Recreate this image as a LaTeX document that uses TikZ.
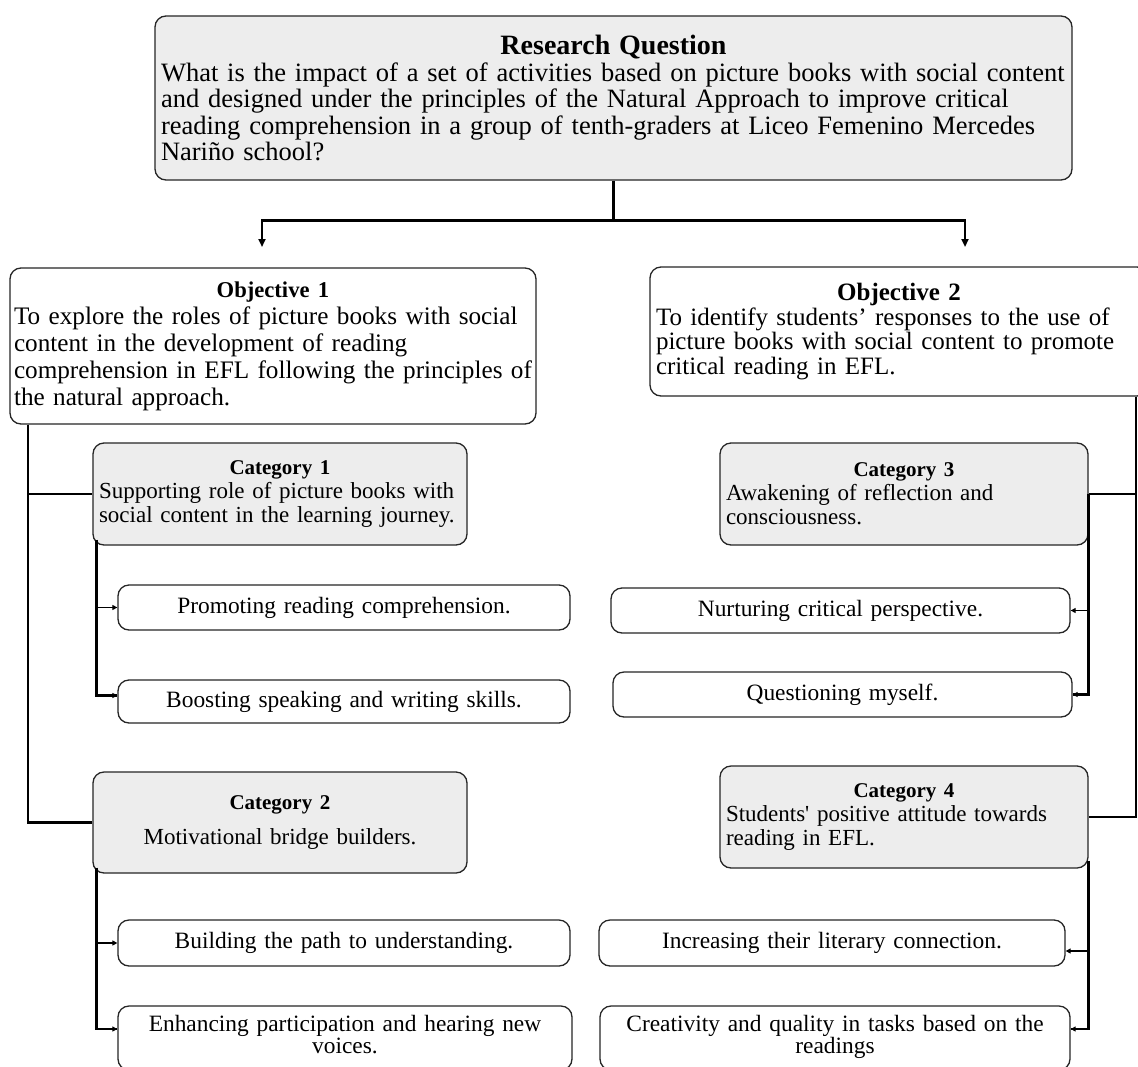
\documentclass[tikz,border=0pt]{standalone}
\usepackage{fontspec}
\setmainfont{Liberation Serif}
\usetikzlibrary{arrows.meta}
\begin{document}
\begin{tikzpicture}[x=1pt,y=-1pt,
  box/.style={draw=black!85, line width=1.3pt, rounded corners=11pt, inner xsep=6pt, inner ysep=0pt, align=left},
  gbox/.style={box, fill=black!7},
  subbox/.style={box, align=center, font=\fontsize{23.4}{22}\selectfont},
  conn/.style={line width=2.4pt},
  branch/.style={line width=1.7pt},
  arr/.style={-{Triangle[length=8pt,width=7pt]}},
  sarr/.style={-{Triangle[length=5pt,width=5pt]}},
  catfont/.style={font=\fontsize{23}{24}\selectfont}]
\clip (0,0) rectangle (1138,1066);
\fill[white] (0,0) rectangle (1138,1066);

% Research question
\node[gbox, minimum width=917pt, minimum height=164pt, text width=905pt,
      font=\fontsize{26.5}{26.5}\selectfont] (rq) at (613.5,98)
 {\hfill{\fontsize{28}{28}\selectfont\bfseries Research Question}\hfill\null\\
  What is the impact of a set of activities based on picture books with social content\\
  and designed under the principles of the Natural Approach to improve critical\\
  reading comprehension in a group of tenth-graders at Liceo Femenino Mercedes\\
  Nariño school?};

% Objectives
\node[box, inner xsep=4pt, font=\fontsize{25.2}{27}\selectfont, minimum width=526pt, minimum height=156pt, text width=518pt] (obj1) at (273,346)
 {\hfill{\fontsize{22.6}{28}\selectfont\bfseries Objective 1}\hfill\null\\
  To explore the roles of picture books with social\\
  content in the development of reading\\
  comprehension in EFL following the principles of\\
  the natural approach.};
\node[box, font=\fontsize{25}{24.5}\selectfont, minimum width=498pt, minimum height=129pt, text width=486pt] (obj2) at (899,331.5)
 {\hfill\textbf{Objective 2}\hfill\null\\
  To identify students’ responses to the use of\\
  picture books with social content to promote\\
  critical reading in EFL.};

% Categories
\node[gbox, catfont, minimum width=374pt, minimum height=102pt, text width=362pt] (cat1) at (280,494)
 {\hfill{\fontsize{21}{24}\selectfont\bfseries Category 1}\hfill\null\\
  Supporting role of picture books with\\
  social content in the learning journey.};
\node[gbox, catfont, align=center, minimum width=374pt, minimum height=101pt, text width=362pt] (cat2) at (280,822.5)
 {{\fontsize{21}{24}\selectfont\bfseries Category 2}\\[11pt]
  Motivational bridge builders.};
\node[gbox, catfont, minimum width=368pt, minimum height=102pt, text width=356pt] (cat3) at (904,494)
 {\hfill{\fontsize{21}{24}\selectfont\bfseries Category 3}\hfill\null\\
  Awakening of reflection and\\
  consciousness.};
\node[gbox, catfont, minimum width=368pt, minimum height=102pt, text width=356pt] (cat4) at (904,817)
 {\hfill{\fontsize{21}{24}\selectfont\bfseries Category 4}\hfill\null\\
  Students\textquotesingle\ positive attitude towards\\
  reading in EFL.};

% Sub-themes left
\node[subbox, minimum width=452pt, minimum height=45pt, text width=440pt] (p1) at (344,607.5) {Promoting reading comprehension.};
\node[subbox, minimum width=452pt, minimum height=43pt, text width=440pt] (p2) at (344,701.5) {Boosting speaking and writing skills.};
\node[subbox, minimum width=452pt, minimum height=46pt, text width=440pt] (p3) at (344,943) {Building the path to understanding.};
\node[subbox, minimum width=454pt, minimum height=64pt, text width=442pt] (p4) at (345,1038) {Enhancing participation and hearing new\\voices.\\[-14pt]\mbox{}};

% Sub-themes right
\node[subbox, minimum width=459pt, minimum height=45pt, text width=447pt] (q1) at (840.5,610.5) {Nurturing critical perspective.};
\node[subbox, minimum width=459pt, minimum height=45pt, text width=447pt] (q2) at (842.5,694.5) {Questioning myself.};
\node[subbox, minimum width=466pt, minimum height=46pt, text width=454pt] (q3) at (832,943) {Increasing their literary connection.};
\node[subbox, minimum width=470pt, minimum height=64pt, text width=458pt] (q4) at (835,1038) {Creativity and quality in tasks based on the\\readings\\[-14pt]\mbox{}};

% Connectors: research question to objectives
\coordinate (a1) at (262,247);
\coordinate (a2) at (965,247);
\draw[conn] (rq.south) -- ++(0,40) coordinate (j);
\draw[conn, arr] (j) -| (a1);
\draw[conn, arr] (j) -| (a2);

% Left trunk
\coordinate (ltx) at (28,0);
\draw[conn] (obj1.south -| ltx) |- (cat2.west);
\draw[conn] (obj1.south -| ltx) |- (cat1.west);

% Right trunk
\coordinate (rtx) at (1136,0);
\draw[conn] (obj2.south -| rtx) |- (cat4.east);
\draw[conn] (obj2.south -| rtx) |- (cat3.east);

% Category 1 sub-themes
\coordinate (v1) at ([xshift=4pt,yshift=6pt]cat1.south west);
\coordinate (p2in) at ([yshift=6pt]p2.west);
\draw[conn] (v1) |- (p2in);
\draw[branch, sarr] (v1 |- p1.west) -- (p1.west);
\draw[branch, sarr] (v1 |- p2in) -- (p2in);

% Category 2 sub-themes
\coordinate (v2) at ([xshift=4pt,yshift=6pt]cat2.south west);
\coordinate (p4in) at ([yshift=9pt]p4.west);
\draw[conn] (v2) |- (p4in);
\draw[branch, sarr] (v2 |- p3.west) -- (p3.west);
\draw[branch, sarr] (v2 |- p4in) -- (p4in);

% Category 3 sub-themes
\draw[conn] (cat3.east) |- (q2.east);
\draw[branch, sarr] (cat3.east |- q1.east) -- (q1.east);
\draw[branch, sarr] (cat3.east |- q2.east) -- (q2.east);

% Category 4 sub-themes
\coordinate (v4) at ([yshift=8pt]cat4.south east);
\coordinate (q3in) at ([yshift=-8pt]q3.east);
\coordinate (q4in) at ([yshift=9pt]q4.east);
\draw[conn] (v4) |- (q4in);
\draw[branch, sarr] (v4 |- q3in) -- (q3in);
\draw[branch, sarr] (v4 |- q4in) -- (q4in);
\end{tikzpicture}
\end{document}
